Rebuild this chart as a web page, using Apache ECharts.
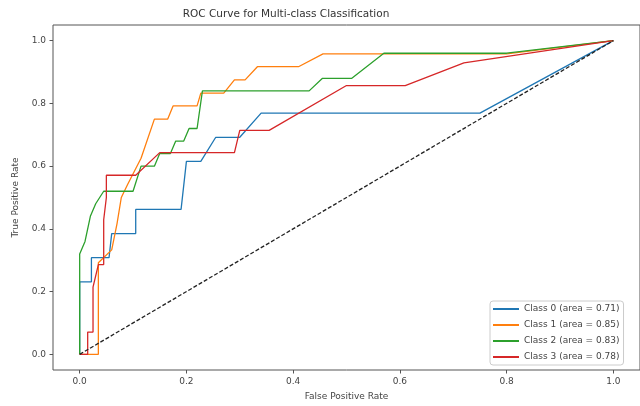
<!DOCTYPE html>
<html>
<head>
<meta charset="utf-8">
<script src="https://cdn.jsdelivr.net/npm/echarts@6/dist/echarts.min.js"></script>
<style>
  html, body { margin: 0; padding: 0; background: #fff; }
  #roc { width: 640px; height: 406px; }
</style>
</head>
<body>
<div id="roc"></div>
<script>
// ROC points (fpr / tpr pairs, one pair of arrays per class)
var classIds = [0, 1, 2, 3];
var aucValues = [0.71, 0.85, 0.83, 0.78];
var classColors = ['#1f77b4', '#ff7f0e', '#2ca02c', '#d62728'];

var fpr0 = [0, 0, 0.022, 0.022, 0.055, 0.06, 0.105, 0.105, 0.19, 0.2, 0.227, 0.255, 0.3, 0.34, 0.75, 1];
var tpr0 = [0, 0.231, 0.231, 0.308, 0.308, 0.385, 0.385, 0.462, 0.462, 0.615, 0.615, 0.692, 0.692, 0.769, 0.769, 1];

var fpr1 = [0, 0.035, 0.035, 0.06, 0.07, 0.078, 0.09, 0.115, 0.14, 0.165, 0.175, 0.22, 0.227, 0.27, 0.29, 0.31, 0.333, 0.41, 0.456, 0.8, 1];
var tpr1 = [0, 0, 0.292, 0.333, 0.417, 0.5, 0.542, 0.625, 0.75, 0.75, 0.792, 0.792, 0.833, 0.833, 0.875, 0.875, 0.917, 0.917, 0.958, 0.958, 1];

var fpr2 = [0, 0, 0.01, 0.02, 0.03, 0.045, 0.1, 0.115, 0.14, 0.15, 0.17, 0.18, 0.195, 0.205, 0.22, 0.23, 0.43, 0.455, 0.51, 0.57, 0.8, 1];
var tpr2 = [0, 0.32, 0.36, 0.44, 0.48, 0.52, 0.52, 0.6, 0.6, 0.64, 0.64, 0.68, 0.68, 0.72, 0.72, 0.84, 0.84, 0.88, 0.88, 0.96, 0.96, 1];

var fpr3 = [0, 0.015, 0.015, 0.025, 0.025, 0.035, 0.045, 0.045, 0.05, 0.05, 0.105, 0.15, 0.29, 0.3, 0.355, 0.5, 0.61, 0.72, 1];
var tpr3 = [0, 0, 0.071, 0.071, 0.214, 0.286, 0.286, 0.429, 0.5, 0.571, 0.571, 0.643, 0.643, 0.714, 0.714, 0.857, 0.857, 0.929, 1];

var chanceFpr = [0, 1];
var chanceTpr = [0, 1];

var tickValues = [0, 0.2, 0.4, 0.6, 0.8, 1.0];

var fprList = [fpr0, fpr1, fpr2, fpr3];
var tprList = [tpr0, tpr1, tpr2, tpr3];

function zip(xs, ys) {
    var out = [];
    for (var i = 0; i < xs.length; i++) out.push([xs[i], ys[i]]);
    return out;
}

var dom = document.getElementById('roc');
var chart = echarts.init(dom, null, { renderer: 'canvas' });

var font = 'DejaVu Sans';
var names = classIds.map(function (c, i) {
    return 'Class ' + c + ' (area = ' + aucValues[i].toFixed(2) + ')';
});

var series = classIds.map(function (c, i) {
    return {
        name: names[i],
        type: 'line',
        data: zip(fprList[i], tprList[i]),
        symbol: 'none',
        color: classColors[i],
        lineStyle: { width: 1.3, color: classColors[i] },
        z: 2 + i
    };
});
// diagonal reference line, drawn last
series.push({
    name: 'chance',
    type: 'line',
    data: zip(chanceFpr, chanceTpr),
    symbol: 'none',
    lineStyle: { width: 1.3, color: '#222', type: [4, 2] },
    z: 10
});

var option = {
    animation: false,
    backgroundColor: '#fff',
    title: {
        text: 'ROC Curve for Multi-class Classification',
        left: 286,
        top: 9,
        textAlign: 'center',
        padding: 0,
        textStyle: { fontFamily: font, fontSize: 10.5, fontWeight: 'normal', color: '#333' }
    },
    grid: {
        left: 53,
        top: 25,
        width: 596,
        height: 347,
        show: true,
        borderColor: '#555',
        borderWidth: 1,
        containLabel: false
    },
    legend: {
        data: names,
        orient: 'vertical',
        left: 490,
        top: 301,
        padding: [3, 4, 3, 3],
        itemGap: 6,
        itemWidth: 26,
        itemHeight: 2,
        icon: 'rect',
        backgroundColor: 'rgba(255,255,255,0.85)',
        borderColor: '#ccc',
        borderWidth: 1,
        borderRadius: 3,
        textStyle: { fontFamily: font, fontSize: 9, color: '#444', lineHeight: 10 }
    },
    xAxis: {
        type: 'value',
        min: -0.05,
        max: 1.05,
        name: 'False Positive Rate',
        nameLocation: 'middle',
        nameGap: 22,
        nameTextStyle: { fontFamily: font, fontSize: 9, color: '#444' },
        axisLine: { show: false, onZero: false },
        axisTick: { show: true, length: 3.5, customValues: tickValues, lineStyle: { color: '#555' } },
        axisLabel: {
            customValues: tickValues,
            margin: 7,
            fontFamily: font,
            fontSize: 9,
            color: '#444',
            formatter: function (v) { return v.toFixed(1); }
        },
        splitLine: { show: false }
    },
    yAxis: {
        type: 'value',
        min: -0.05,
        max: 1.05,
        name: 'True Positive Rate',
        nameLocation: 'middle',
        nameGap: 33,
        nameTextStyle: { fontFamily: font, fontSize: 9, color: '#444' },
        axisLine: { show: false, onZero: false },
        axisTick: { show: true, length: 3.5, customValues: tickValues, lineStyle: { color: '#555' } },
        axisLabel: {
            customValues: tickValues,
            margin: 7,
            fontFamily: font,
            fontSize: 9,
            color: '#444',
            formatter: function (v) { return v.toFixed(1); }
        },
        splitLine: { show: false }
    },
    series: series
};

chart.setOption(option);
window.onresize = function () {
    chart.resize();
};
</script>
</body>
</html>
